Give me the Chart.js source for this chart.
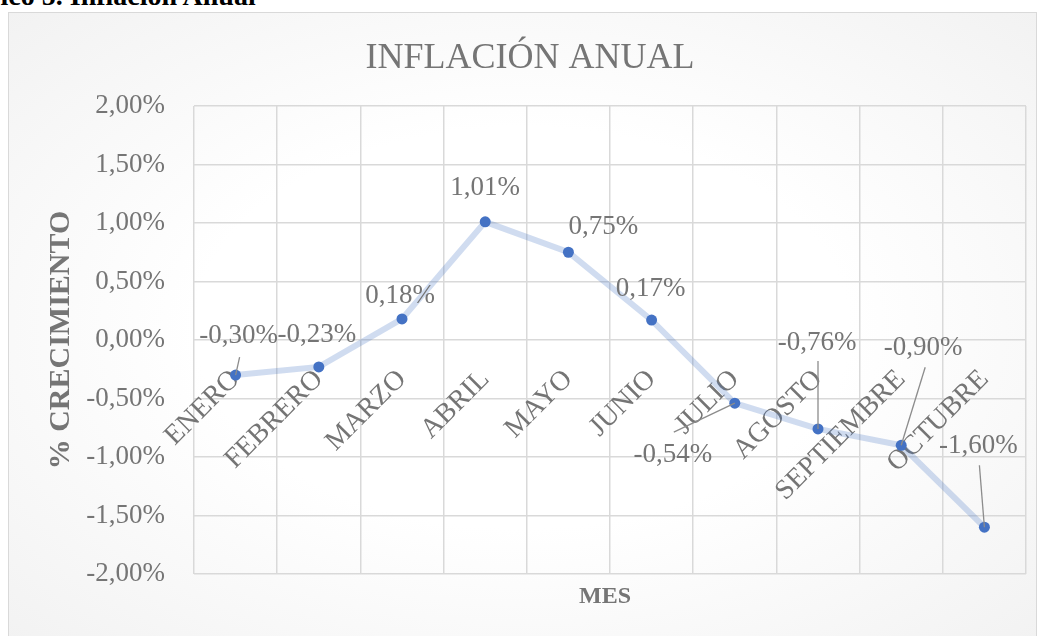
<!DOCTYPE html>
<html>
<head>
<meta charset="utf-8">
<script src="https://cdn.jsdelivr.net/npm/chart.js@4/dist/chart.umd.min.js"></script>
<style>
    html, body { margin: 0; padding: 0; width: 1040px; height: 636px; overflow: hidden; background: #fff; }
    .heading {
        position: absolute; left: -57px; top: -18px;
        font: bold 28px 'Liberation Serif', 'Times New Roman', serif;
        line-height: 28px; color: #000; white-space: nowrap;
    }
    .frame {
        position: absolute; left: 8px; top: 12px; width: 1027px; height: 630px;
        border: 1px solid #d9d9d9;
        background: radial-gradient(ellipse at center, #ffffff 45%, #f2f2f2 100%);
    }
    #chart { position: absolute; left: 0; top: 0; }
</style>
</head>
<body>
<div class="heading">Gráfico 5. Inflación Anual</div>
<div class="frame"></div>
<canvas id="chart" width="1040" height="636"></canvas>
<script>
// ============================================
// Inflación anual - line chart
// ============================================

const months = ['ENERO', 'FEBRERO', 'MARZO', 'ABRIL', 'MAYO', 'JUNIO',
    'JULIO', 'AGOSTO', 'SEPTIEMBRE', 'OCTUBRE'];
const inflation = [-0.30, -0.23, 0.18, 1.01, 0.75, 0.17, -0.54, -0.76, -0.90, -1.60];
const yTicks = [-2, -1.5, -1, -0.5, 0, 0.5, 1, 1.5, 2];

const chartTitle = 'INFLACIÓN ANUAL';
const xTitle = 'MES';
const yTitle = '% CRECIMIENTO';

// label placement relative to each point (px): label centre + leader start
const labelPlacement = [
    { dx: 3, dy: -39, lx: 4, ly: -18 },
    { dx: -2, dy: -32 },
    { dx: -2, dy: -23 },
    { dx: 0, dy: -34 },
    { dx: 35, dy: -25 },
    { dx: -1, dy: -31 },
    { dx: -62, dy: 52, lx: -61, ly: 29 },
    { dx: -1, dy: -86, lx: 0, ly: -68 },
    { dx: 22, dy: -97, lx: 24, ly: -78 },
    { dx: -6, dy: -81, lx: -5, ly: -62 }
];

const serif = "'Liberation Serif', 'Times New Roman', serif";
const textGray = '#757575';
const gridGray = '#d9d9d9';

const fmt = v => v.toFixed(2).replace('.', ',') + '%';

// Data labels, leader lines, title and x axis title
const annotate = {
    id: 'annotate',
    afterDatasetsDraw(chart) {
        const ctx = chart.ctx;
        const meta = chart.getDatasetMeta(0);
        const area = chart.chartArea;
        ctx.save();

        // leader lines
        ctx.strokeStyle = '#8c8c8c';
        ctx.lineWidth = 1.3;
        meta.data.forEach((pt, i) => {
            const p = labelPlacement[i];
            if (p.lx === undefined) return;
            ctx.beginPath();
            ctx.moveTo(pt.x + p.lx, pt.y + p.ly);
            ctx.lineTo(pt.x, pt.y);
            ctx.stroke();
        });

        // value labels
        ctx.fillStyle = textGray;
        ctx.font = '27px ' + serif;
        ctx.textAlign = 'center';
        ctx.textBaseline = 'middle';
        meta.data.forEach((pt, i) => {
            const p = labelPlacement[i];
            ctx.fillText(fmt(inflation[i]), pt.x + p.dx, pt.y + p.dy);
        });

        // chart title
        ctx.textBaseline = 'alphabetic';
        ctx.font = '36px ' + serif;
        ctx.fillText(chartTitle, 530, 68);

        // x axis title
        ctx.font = 'bold 24px ' + serif;
        ctx.fillText(xTitle, (area.left + area.right) / 2 - 5, 603);

        ctx.restore();
    }
};

new Chart(document.getElementById('chart'), {
    type: 'line',
    data: {
        labels: months,
        datasets: [{
            data: inflation,
            borderColor: 'rgba(68, 114, 196, 0.25)',
            borderWidth: 6,
            backgroundColor: '#4472c4',
            pointBackgroundColor: '#4472c4',
            pointBorderWidth: 0,
            pointRadius: 5.5,
            tension: 0,
            fill: false
        }]
    },
    options: {
        responsive: false,
        devicePixelRatio: 1,
        animation: false,
        layout: {
            padding: { top: 106, bottom: 62, left: 20, right: 14 }
        },
        plugins: {
            legend: { display: false },
            tooltip: { enabled: false }
        },
        scales: {
            x: {
                position: { y: 0 },
                offset: true,
                grid: {
                    offset: true,
                    color: gridGray,
                    lineWidth: 1.5,
                    drawTicks: false
                },
                border: { display: false },
                ticks: {
                    autoSkip: false,
                    minRotation: 45,
                    maxRotation: 45,
                    padding: 23,
                    color: textGray,
                    font: { family: serif, size: 28 }
                }
            },
            y: {
                min: -2,
                max: 2,
                afterBuildTicks(scale) {
                    scale.ticks = yTicks.map(v => ({ value: v }));
                },
                afterFit(scale) {
                    scale.width = 174;
                },
                grid: {
                    color: gridGray,
                    lineWidth: 1.5,
                    drawTicks: false
                },
                border: { display: false },
                ticks: {
                    padding: 29,
                    color: textGray,
                    font: { family: serif, size: 27 },
                    callback: v => fmt(v)
                },
                title: {
                    display: true,
                    text: yTitle,
                    color: textGray,
                    padding: { top: 23, bottom: 0 },
                    font: { family: serif, size: 30, weight: 'bold' }
                }
            }
        }
    },
    plugins: [annotate]
});
</script>
</body>
</html>
